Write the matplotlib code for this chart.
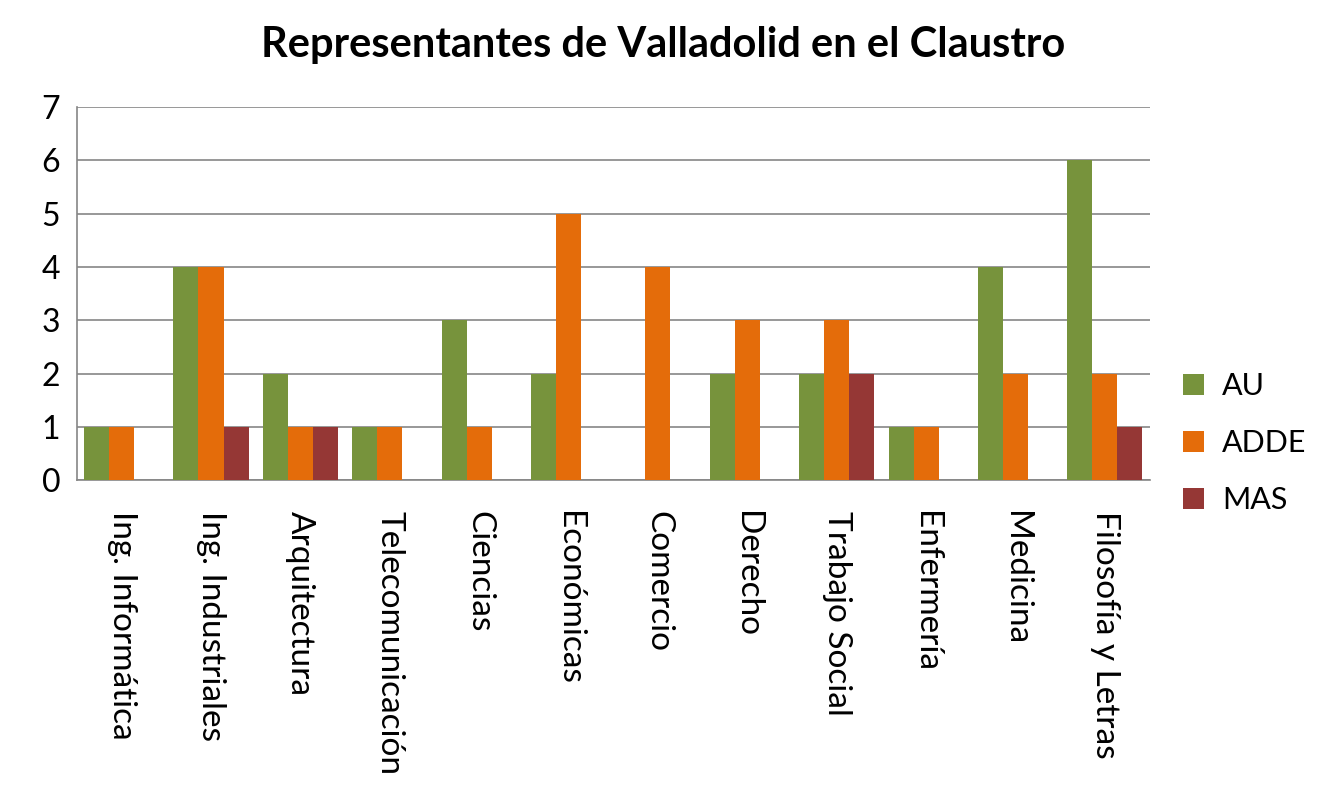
import numpy as np
import matplotlib.pyplot as plt

plt.rcParams['font.family'] = ['Lato', 'DejaVu Sans']

# datos del claustro
facultades = ["Ing. Informática", "Ing. Industriales", "Arquitectura", "Telecomunicación",
              "Ciencias", "Económicas", "Comercio", "Derecho", "Trabajo Social",
              "Enfermería", "Medicina", "Filosofía y Letras"]
au = [1, 4, 2, 1, 3, 2, 0, 2, 2, 1, 4, 6]
adde = [1, 4, 1, 1, 1, 5, 4, 3, 3, 1, 2, 2]
mas = [0, 1, 1, 0, 0, 0, 0, 0, 2, 0, 0, 1]

series = [("AU", au, "#77933C"), ("ADDE", adde, "#E46C0A"), ("MAS", mas, "#953735")]

fig = plt.figure(figsize=(13.26, 8.10), dpi=100)
ax = fig.add_axes([0.058, 0.407, 0.809, 0.461])

x = np.arange(len(facultades))
w = 0.28
for i, (nombre, vals, color) in enumerate(series):
    ax.bar(x + (i - 1) * w, vals, w, color=color, label=nombre, zorder=3)

ax.set_xlim(-0.5, len(facultades) - 0.5)
ax.set_ylim(0, 7)
ax.set_yticks(range(8))
ax.yaxis.grid(True, color="#868686", linewidth=1.2, zorder=0)
ax.set_xticks(x)
ax.set_xticklabels(facultades, rotation=-90, fontsize=24, va="top", ha="center")
ax.tick_params(axis="y", labelsize=23, length=0, pad=12)
ax.tick_params(axis="x", length=0, pad=22)
for s in ["top", "right"]:
    ax.spines[s].set_visible(False)
for s in ["left", "bottom"]:
    ax.spines[s].set_color("#868686")
    ax.spines[s].set_linewidth(1.2)

# titulo centrado en la figura
fig.suptitle("Representantes de Valladolid en el Claustro", fontsize=30,
             fontweight="bold", x=0.5, y=0.945, va="center")

ax.legend(loc="center left", bbox_to_anchor=(1.005, 0.10), frameon=False,
          fontsize=22, handlelength=0.7, handleheight=0.7, labelspacing=0.95,
          handletextpad=0.6)

fig.savefig("out.png", dpi=100)
